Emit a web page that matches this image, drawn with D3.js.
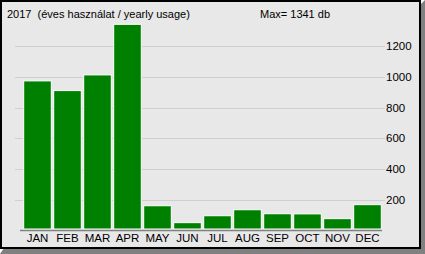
<!DOCTYPE html>
<html>
<head>
<meta charset="utf-8">
<script src="https://cdn.jsdelivr.net/npm/d3@7"></script>
<style>
  body { margin: 0; background: #fff; }
  svg { display: block; }
  text { font-family: "Liberation Sans", Arial, sans-serif; font-size: 11px; fill: #000; white-space: pre; }
</style>
</head>
<body>
<svg id="chart"></svg>
<script>
const months = ["JAN", "FEB", "MAR", "APR", "MAY", "JUN", "JUL", "AUG", "SEP", "OCT", "NOV", "DEC"];
const usage = [973, 910, 1012, 1341, 161, 51, 96, 135, 109, 108, 77, 168];
const yTicks = [200, 400, 600, 800, 1000, 1200];
const title = "2017  (éves használat / yearly usage)";
const maxLabel = "Max= " + d3.max(usage) + " db";

const w = 425, h = 254;
const font = "\"Liberation Sans\", Arial, sans-serif";
const svg = d3.select("#chart").attr("width", w).attr("height", h);

// shadow + frame
svg.append("polygon")
    .attr("points", `4,248 421,248 421,4 425,0 425,254 0,254`)
    .attr("fill", "#808080");
svg.append("rect")
    .attr("x", 1).attr("y", 1)
    .attr("width", 419).attr("height", 247)
    .attr("fill", "#e8e8e8")
    .attr("stroke", "#000")
    .attr("stroke-width", 2);

// scales
const x = d3.scaleBand()
    .domain(months)
    .range([22.5, 382.5])
    .paddingInner(0.08)
    .paddingOuter(0.04);

const y = d3.scaleLinear()
    .domain([0, 1200])
    .range([230.5, 46]);

// grid
svg.append("g")
    .selectAll("line")
    .data(yTicks)
    .join("line")
    .attr("x1", 15).attr("x2", 385)
    .attr("y1", d => Math.round(y(d)) + 0.5)
    .attr("y2", d => Math.round(y(d)) + 0.5)
    .attr("stroke", "#cfcfcf");

// y axis labels on the right
const yAxis = d3.axisRight(y)
    .tickValues(yTicks)
    .tickFormat(d3.format("d"))
    .tickSize(0)
    .tickPadding(0);
svg.append("g")
    .attr("transform", "translate(386,0)")
    .call(yAxis)
    .call(g => g.select(".domain").remove())
    .call(g => g.selectAll("text")
        .style("font-family", font)
        .style("font-size", "11.5px")
        .attr("fill", "#000"));

// bars
svg.append("g")
    .selectAll("rect")
    .data(usage)
    .join("rect")
    .attr("x", (d, i) => x(months[i]))
    .attr("y", d => y(d))
    .attr("width", x.bandwidth())
    .attr("height", d => 229 - y(d))
    .attr("fill", "#008000")
    .attr("stroke", "#fff")
    .attr("stroke-width", 1);

// baseline
svg.append("line")
    .attr("x1", 20).attr("x2", 382)
    .attr("y1", 230.5).attr("y2", 230.5)
    .attr("stroke", "#808080")
    .attr("stroke-width", 1.5);

// month labels
const xAxis = d3.axisBottom(x).tickSize(0).tickPadding(0);
svg.append("g")
    .attr("transform", "translate(0,234)")
    .call(xAxis)
    .call(g => g.select(".domain").remove())
    .call(g => g.selectAll("text")
        .style("font-family", font)
        .style("font-size", "11.5px")
        .attr("fill", "#000"));

// header texts
svg.append("text").attr("x", 7).attr("y", 18).text(title);
svg.append("text").attr("x", 260).attr("y", 18).text(maxLabel);
</script>
</body>
</html>
